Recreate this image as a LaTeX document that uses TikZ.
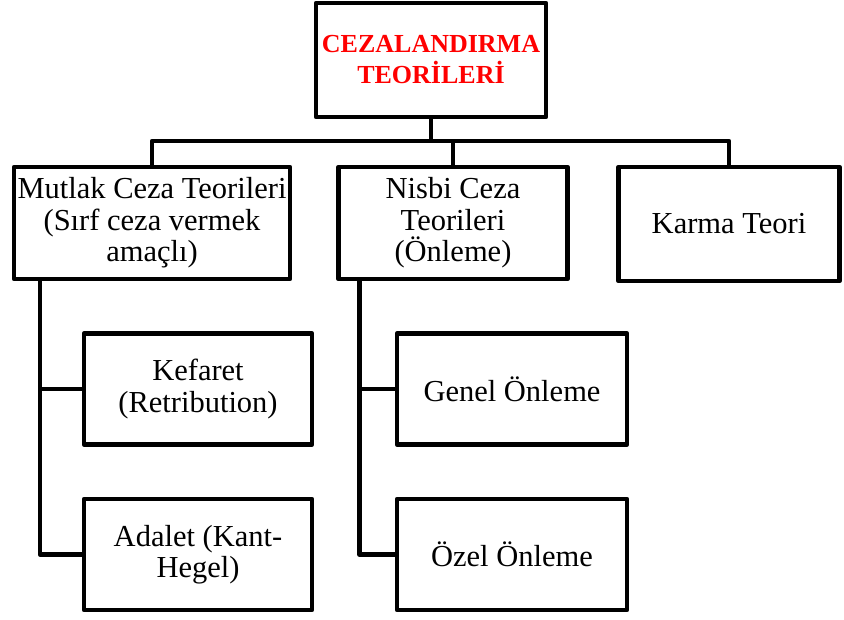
\documentclass[tikz,border=0pt]{standalone}
\usepackage{fontspec}
\setmainfont{Liberation Serif}
\usepackage{tikz}
\tikzstyle{block}=[draw, line width=4.5pt, line join=round, align=center, inner sep=1pt, font=\fontsize{30.5}{31.5}\selectfont]
\tikzstyle{conn}=[line width=4.5pt, line join=round]
\usetikzlibrary{positioning}

\begin{document}
\begin{tikzpicture}[x=1pt,y=-1pt]
\useasboundingbox (0,0) rectangle (844,619);
\node (top) [block,minimum width=230,minimum height=114,text=red,
font=\bfseries\fontsize{26}{31}\selectfont] at (431,60) {CEZALANDIRMA\\TEORİLERİ};
\coordinate (bar) at (0,141);

\node (mut) [block,minimum width=276,minimum height=112] at (152,223) {Mutlak Ceza Teorileri\\(Sırf ceza vermek\\amaçlı)};
\node (nis) [block,minimum width=229,minimum height=112] at (453,223) {Nisbi Ceza\\Teorileri\\(Önleme)};
\node (kar) [block,minimum width=221,minimum height=114] at (729,224) {Karma Teori};

\draw[conn] (top) -- (top |- bar);
\draw[conn] (mut) |- (kar.north |- bar) -- (kar);
\draw[conn] (nis) -- (nis |- bar);

\node (kef) [block,minimum width=228,minimum height=111] at (198,389) {Kefaret\\(Retribution)};
\node (ada) [block,minimum width=228,minimum height=111,below=50pt of kef] {Adalet (Kant-\\Hegel)};
\node (gen) [block,minimum width=230,minimum height=111] at (512,389) {Genel Önleme};
\node (oze) [block,minimum width=230,minimum height=111,below=50pt of gen] {Özel Önleme};

\draw[conn] ([xshift=28pt]mut.south west) coordinate (t1) |- (ada);
\draw[conn] (kef) -- (kef -| t1);
\draw[conn] ([xshift=23pt]nis.south west) coordinate (t2) |- (oze);
\draw[conn] (gen) -- (gen -| t2);

\end{tikzpicture}
\end{document}
